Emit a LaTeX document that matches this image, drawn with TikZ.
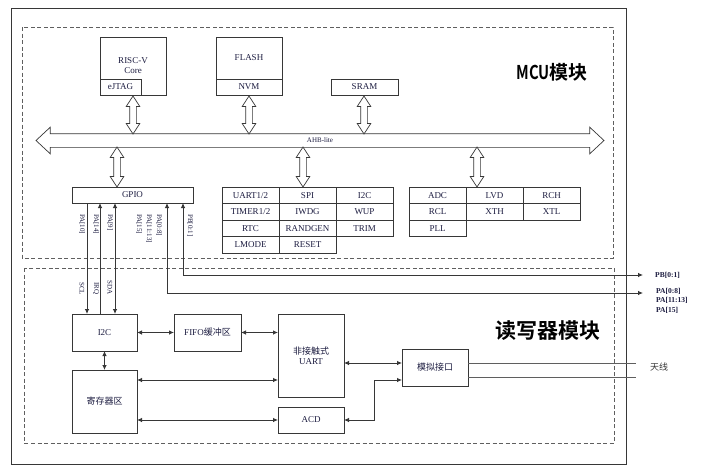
\documentclass[tikz,border=0pt]{standalone}
\usepackage{fontspec}
\setmainfont{Liberation Serif}
\newfontfamily\cjk[BoldFont={Noto Sans CJK SC Bold}]{Noto Sans CJK SC}
\usetikzlibrary{arrows.meta,positioning,shapes.arrows}

\definecolor{txt}{RGB}{28,28,64}
\definecolor{ln}{RGB}{55,55,55}
\definecolor{dsh}{RGB}{95,95,95}

\tikzset{
  blk/.style={draw=ln, line width=0.8pt, text=txt, font=\fontsize{9}{10}\selectfont, inner sep=1pt, outer sep=0pt},
  cell/.style={blk, minimum width=57pt, minimum height=16.5pt},
  frm/.style={draw=dsh, line width=0.8pt, dash pattern=on 4pt off 2.5pt},
  sig/.style={draw=ln, line width=0.8pt},
  hol/.style={double arrow, draw=ln, fill=white, line width=0.7pt, rotate=90, minimum height=38pt, inner sep=3pt, text height=0pt, text depth=0pt, double arrow head extend=3.5pt, double arrow tip angle=66, double arrow head indent=0pt},
  bus/.style={double arrow, draw=ln, fill=white, line width=0.7pt, minimum height=568pt, text height=5pt, text depth=1pt, inner xsep=2pt, inner ysep=3.5pt, double arrow head extend=6.5pt, double arrow tip angle=86, double arrow head indent=0pt, font=\fontsize{7}{8}\selectfont, text=txt},
  pin/.style={rotate=-90, anchor=west, inner sep=0pt, text=txt, font=\fontsize{7}{8}\selectfont},
  lbl/.style={inner sep=0pt, text=txt, font=\bfseries\fontsize{7.5}{9.5}\selectfont}
}

\begin{document}
\begin{tikzpicture}[x=1pt,y=-1pt,>={Latex[length=5pt,width=4.5pt]}]
\useasboundingbox (0,0) rectangle (710,474);

% frames
\draw[ln, line width=1pt] (11,8) rectangle (626,464);
\draw[frm] (22,27) rectangle (613,258);
\draw[frm] (24,268) rectangle (614,443);

\node[font=\cjk\bfseries\fontsize{19}{19}\selectfont] (mcut) at (552,72) {\scalebox{0.78}[1]{MCU}模块};
\node[font=\cjk\bfseries\fontsize{21}{21}\selectfont] (rdrt) at (548,331) {读写器模块};

% MCU blocks
\node[blk, minimum width=66pt, minimum height=58pt, align=center] (cpu) at (133,66) {RISC-V\\Core};
\node[blk, anchor=south west, minimum width=41pt, minimum height=16pt] (jtag) at (cpu.south west) {eJTAG};
\node[blk, minimum width=66pt, minimum height=42pt] (flash) at (249,58) {FLASH};
\node[blk, minimum width=66pt, minimum height=16pt, below=0pt of flash] (nvm) {NVM};
\node[blk, minimum width=67pt, minimum height=16pt] (sram) at (364.5,87) {SRAM};

\node[bus] (ahb) at (320,140.5) {AHB-lite};

\node[hol] (hcpu) at (133,115) {};
\node[hol] (hflash) at (249,115) {};
\node[hol] (hsram) at (364,115) {};
\node[hol, minimum height=40pt] (hgpio) at (117,167) {};
\node[hol, minimum height=40pt] (hper) at (303,167) {};
\node[hol, minimum height=40pt] (hana) at (477,167) {};

\node[blk, minimum width=121pt, minimum height=16pt] (gpio) at (132.5,195) {GPIO};

% peripherals
\node[cell] (uart12) at (250.5,195.25) {UART1/2};
\node[cell, right=0pt of uart12] (spi) {SPI};
\node[cell, right=0pt of spi] (i2cp) {I2C};
\node[cell, below=0pt of uart12] (tim) {TIMER1/2};
\node[cell, right=0pt of tim] (iwdg) {IWDG};
\node[cell, right=0pt of iwdg] (wup) {WUP};
\node[cell, below=0pt of tim] (rtc) {RTC};
\node[cell, right=0pt of rtc] (rand) {RANDGEN};
\node[cell, right=0pt of rand] (trim) {TRIM};
\node[cell, below=0pt of rtc] (lmode) {LMODE};
\node[cell, right=0pt of lmode] (reset) {RESET};

% analog
\node[cell] (adc) at (437.5,195.25) {ADC};
\node[cell, right=0pt of adc] (lvd) {LVD};
\node[cell, right=0pt of lvd] (rch) {RCH};
\node[cell, below=0pt of adc] (rcl) {RCL};
\node[cell, right=0pt of rcl] (xth) {XTH};
\node[cell, right=0pt of xth] (xtl) {XTL};
\node[cell, below=0pt of rcl] (pll) {PLL};

% reader blocks
\node[blk, minimum width=65pt, minimum height=37pt] (i2c) at (104.5,332.5) {I2C};
\node[blk, minimum width=67pt, minimum height=37pt] (fifo) at (207.5,332.5) {FIFO{\cjk 缓冲区}};
\node[blk, minimum width=66pt, minimum height=83pt, align=center] (uart) at (311,355.5) {{\cjk 非接触式}\\UART};
\node[blk, minimum width=65pt, minimum height=63pt] (reg) at (104.5,401.5) {\cjk 寄存器区};
\node[blk, minimum width=66pt, minimum height=26pt] (acd) at (311,420) {ACD};
\node[blk, minimum width=66pt, minimum height=37pt] (ana) at (435,367.5) {\cjk 模拟接口};
\node[font=\cjk\fontsize{9}{10}\selectfont, text=ln] (ant) at (659,367) {天线};

% pins
\coordinate (pbend) at (643,275);
\coordinate (paend) at (643,293);
\draw[->, sig] ([xshift=15pt]gpio.south west) -- ([xshift=15pt]i2c.north west);
\draw[->, sig] ([xshift=28pt]i2c.north west) -- ([xshift=28pt]gpio.south west);
\draw[<->, sig] ([xshift=43pt]gpio.south west) -- ([xshift=43pt]i2c.north west);
\draw[<->, sig] ([xshift=95pt]gpio.south west) |- (paend);
\draw[<->, sig] ([xshift=111pt]gpio.south west) |- (pbend);

\node[pin] (p10) at (82,214) {PA[10]};
\node[pin] (p14) at (96,214) {PA[14]};
\node[pin] (p9) at (110,214) {PA[9]};
\node[pin] (p15) at (139,214) {PA[15]};
\node[pin] (p1113) at (149,214) {PA[11:13]};
\node[pin] (p08) at (159,214) {PA[0:8]};
\node[pin] (pb01) at (190,214) {PB[0:1]};
\node[pin] (scl) at (82,282) {SCL};
\node[pin] (irq) at (96,282) {IRQ};
\node[pin] (sda) at (110,280) {SDA};

\node[lbl, anchor=west] (pbl) at ([xshift=12pt]pbend) {PB[0:1]};
\node[lbl, anchor=north west, align=left] (pal) at ([xshift=13pt,yshift=5pt]paend) {PA[0:8]\\PA[11:13]\\PA[15]};

% reader links
\draw[<->, sig] (i2c) -- (fifo);
\draw[<->, sig] (fifo.east) -- (fifo.east -| uart.west);
\draw[<->, sig] (i2c) -- (reg);
\coordinate (r1) at ([yshift=-10pt]reg.north east);
\draw[<->, sig] (r1) -- (r1 -| uart.west);
\draw[<->, sig] (acd.west -| reg.east) -- (acd.west);
\coordinate (u1) at ([yshift=4.5pt]ana.west);
\draw[<->, sig] (u1 -| uart.east) -- (u1);
\draw[<->, sig] (acd.east) -- ++(30,0) |- ([yshift=-12.5pt]ana.west);

% antenna
\coordinate (a1) at ([yshift=4.5pt]ana.east);
\coordinate (a2) at ([yshift=-9.5pt]ana.east);
\coordinate (antw) at ([xshift=-10pt]ant.west);
\draw[draw=dsh, line width=1pt] (a1) -- (a1 -| antw);
\draw[draw=dsh, line width=1pt] (a2) -- (a2 -| antw);

\end{tikzpicture}
\end{document}
